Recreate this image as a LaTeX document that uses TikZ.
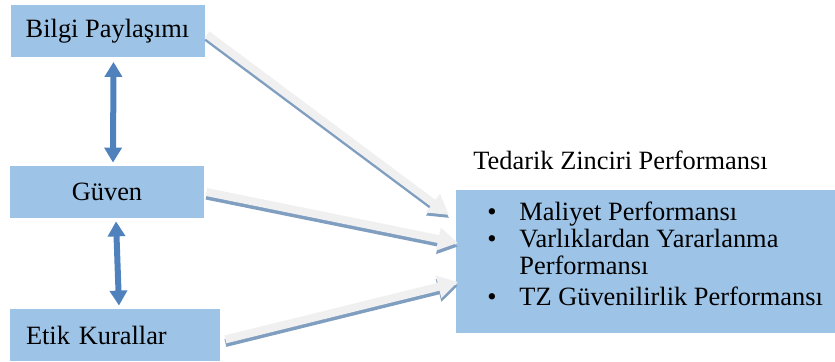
\documentclass[tikz,border=0pt,12pt]{standalone}
\usepackage{fontspec}
\setmainfont{Liberation Serif}
\usetikzlibrary{arrows.meta,positioning}

\definecolor{boxblue}{RGB}{157,195,230}
\definecolor{linkblue}{RGB}{79,129,189}
\definecolor{shadeblue}{RGB}{128,158,192}
\definecolor{arrowgray}{RGB}{240,240,240}

\tikzset{
  every node/.style={font=\fontsize{13.2}{13.5}\selectfont},
  factor/.style={fill=boxblue, minimum width=97pt, minimum height=26pt, inner sep=0pt},
  twoway/.style={line width=3pt, linkblue, {Triangle[width=8.5pt,length=7.5pt]}-{Triangle[width=8.5pt,length=7.5pt]}},
  flowshade/.style={line width=4pt, shadeblue, -{Triangle[width=11pt,length=10pt]}},
  flowarrow/.style={line width=4pt, arrowgray, -{Triangle[width=11pt,length=10pt]}}
}

\begin{document}
\begin{tikzpicture}[x=0.5pt,y=-0.5pt]
\useasboundingbox (0,0) rectangle (835,362);

% left side boxes
\node[factor] (bilgi) at (107.5,31.5) {Bilgi Paylaşımı};
\node[factor] (guven) at (107,192) {Güven};
\node[factor, minimum width=105pt, text width=89pt, align=left] (etik) at (115,335) {Etik Kurallar};

% result box
\node[fill=boxblue, minimum width=189.5pt, minimum height=71.5pt, inner sep=0pt] (perf) at (645.5,261.5) {};
\node[anchor=west, inner sep=0pt] (title) at (473,160) {Tedarik Zinciri Performansı};
\node[anchor=north west, inner sep=0pt] (items) at (487,201) {%
  \begin{tabular}{@{}p{16pt}@{}l@{}}
  \textbullet & Maliyet Performansı\\
  \textbullet & Varlıklardan Yararlanma\\
              & Performansı\\[2pt]
  \textbullet & TZ Güvenilirlik Performansı
  \end{tabular}};

\coordinate (in1) at (449,215);
\coordinate (in2) at (458,243);
\coordinate (in3) at (458,282);

% two way links
\draw[twoway] ([xshift=3pt,yshift=-2pt]bilgi.south) -- ([xshift=3pt,yshift=1.5pt]guven.north);
\draw[twoway] ([xshift=4.5pt,yshift=-1.5pt]guven.south) -- ([xshift=2pt,yshift=1.5pt]etik.north);

% arrows into performance
\draw[flowshade] ([xshift=1pt,yshift=-3pt]bilgi.east) -- ([yshift=-1.5pt]in1);
\draw[flowarrow] ([xshift=1pt,yshift=-1.5pt]bilgi.east) -- (in1);
\draw[flowshade] ([xshift=1pt,yshift=-1.8pt]guven.east) -- ([yshift=-1.8pt]in2);
\draw[flowarrow] ([xshift=1pt]guven.east) -- (in2);
\draw[flowshade] ([xshift=2.5pt,yshift=-4pt]etik.east) -- ([yshift=-1.8pt]in3);
\draw[flowarrow] ([xshift=2.5pt,yshift=-2.2pt]etik.east) -- (in3);

\end{tikzpicture}
\end{document}
